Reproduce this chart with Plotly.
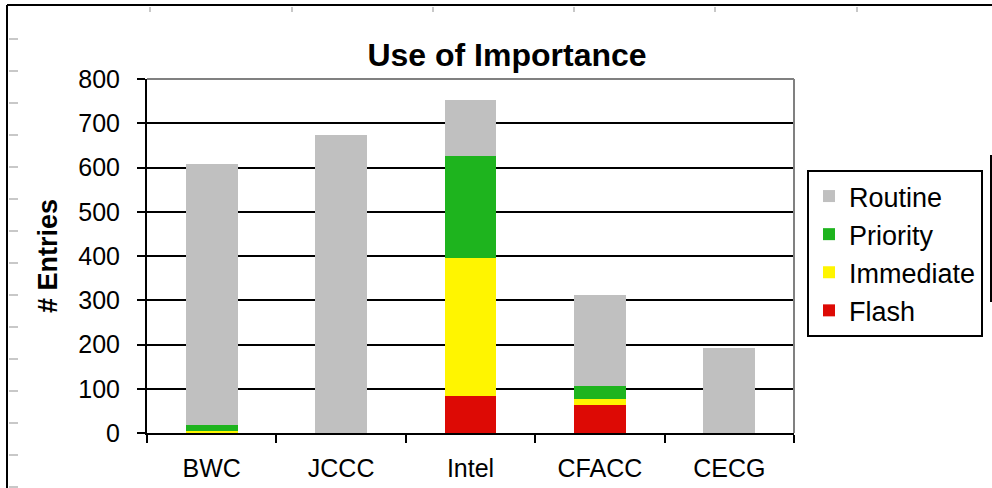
import plotly.graph_objects as go

categories = ["BWC", "JCCC", "Intel", "CFACC", "CECG"]
flash = [0, 0, 84, 63, 0]
immediate = [4, 0, 311, 14, 0]
priority = [13, 0, 230, 29, 0]
routine = [590, 673, 127, 205, 192]

series = [
    ("Flash", flash, "#DD0A05"),
    ("Immediate", immediate, "#FFF500"),
    ("Priority", priority, "#1EB41E"),
    ("Routine", routine, "#C0C0C0"),
]

W, H = 992, 488
L, R, T, B = 147, 794, 79, 433

def px(x):
    return (x - L) / (R - L)

def py(y):
    return (B - y) / (B - T)

fig = go.Figure()
for name, vals, color in series:
    fig.add_trace(go.Bar(x=categories, y=vals, name=name, marker=dict(color=color, line=dict(width=0))))

font = "Liberation Sans, Arial, sans-serif"
shapes = []
shapes.append(dict(type="line", xref="paper", yref="paper", x0=0, x1=1, y0=1, y1=1,
                   line=dict(color="#808080", width=2), layer="above"))
shapes.append(dict(type="line", xref="paper", yref="paper", x0=1, x1=1, y0=0, y1=1,
                   line=dict(color="#808080", width=2), layer="above"))
shapes.append(dict(type="line", xref="paper", yref="paper", x0=px(7), x1=px(992), y0=py(5), y1=py(5),
                   line=dict(color="#000000", width=2)))
shapes.append(dict(type="line", xref="paper", yref="paper", x0=px(7), x1=px(7), y0=py(5), y1=py(488),
                   line=dict(color="#000000", width=2)))
for xt in [150, 292, 433, 574, 715, 857]:
    shapes.append(dict(type="line", xref="paper", yref="paper", x0=px(xt), x1=px(xt), y0=py(7), y1=py(12),
                       line=dict(color="#C8C8C8", width=2)))
for yt in [39, 71, 103, 135, 167, 199, 231, 263, 295, 327, 359, 391, 423, 455, 487]:
    shapes.append(dict(type="line", xref="paper", yref="paper", x0=px(9), x1=px(18), y0=py(yt), y1=py(yt),
                       line=dict(color="#C8C8C8", width=2)))
shapes.append(dict(type="line", xref="paper", yref="paper", x0=px(991), x1=px(991), y0=py(155), y1=py(302),
                   line=dict(color="#000000", width=2)))

fig.update_layout(
    width=W, height=H,
    margin=dict(l=L, r=W - R, t=T, b=H - B, pad=0, autoexpand=False),
    paper_bgcolor="white", plot_bgcolor="white",
    barmode="stack", bargap=0.6,
    title=dict(text="<b>Use of Importance</b>", x=507 / W, xanchor="center",
               y=1 - 55 / H, yanchor="middle", font=dict(family=font, size=32, color="black")),
    font=dict(family=font, color="black"),
    xaxis=dict(showline=True, linecolor="black", linewidth=2, ticks="outside", ticklen=8,
               tickwidth=2, tickcolor="black", tickson="boundaries", showgrid=False,
               tickfont=dict(size=25), ticklabelstandoff=12),
    yaxis=dict(range=[0, 800], dtick=100, showline=True, linecolor="black", linewidth=2,
               ticks="outside", ticklen=8, tickwidth=2, tickcolor="black",
               showgrid=True, gridcolor="black", gridwidth=2, zeroline=False,
               tickfont=dict(size=25), ticklabelstandoff=12,
               title=dict(text="<b># Entries</b>", font=dict(size=27), standoff=13)),
    legend=dict(traceorder="reversed", x=px(807), y=py(170), xanchor="left", yanchor="top",
                bordercolor="black", borderwidth=2, bgcolor="white",
                font=dict(family=font, size=27, color="black"), tracegroupgap=0,
                itemwidth=30),
    shapes=shapes,
    showlegend=True,
)

fig.write_html("out.html")
